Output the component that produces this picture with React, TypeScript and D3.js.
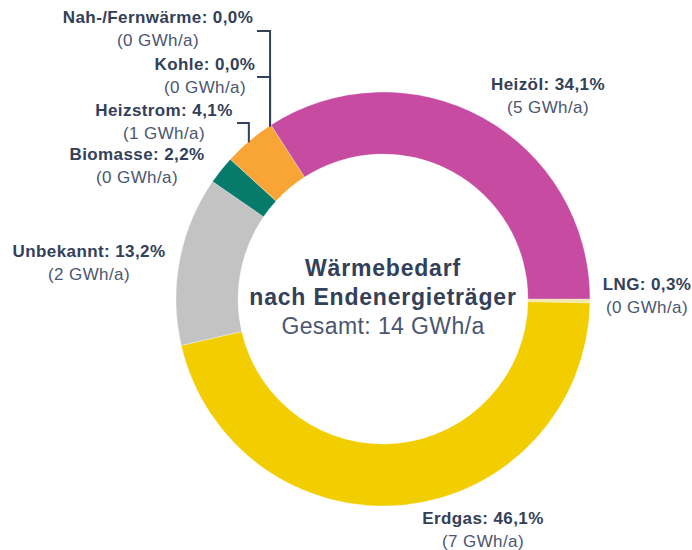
import React from "react";
import * as d3 from "d3";

const categories = ["LNG", "Erdgas", "Unbekannt", "Biomasse", "Heizstrom", "Kohle", "Nah-/Fernwärme", "Heizöl"];
const shares = [0.3, 46.1, 13.2, 2.2, 4.1, 0.0, 0.0, 34.1];
const energyLabels = ["0", "7", "2", "0", "1", "0", "0", "5"];
const colors = ["#f9e6a6", "#f2cd00", "#c3c3c3", "#067a6b", "#f8a535", "#555555", "#b5121b", "#c84ba2"];
// label anchor positions (center x, baseline y of first line)
const labelX = [647, 483, 89, 137, 164, 205, 158, 548];
const labelY = [290, 524, 257, 160, 116, 70, 23, 90];
const titleLines = ["Wärmebedarf", "nach Endenergieträger"];
const totalLabel = "Gesamt: 14 GWh/a";

const W = 692, H = 550;
const cx = 383, cy = 299;
const rOuter = 207, rInner = 145;
const TEXT = "#33405a";

export default function App() {
  const pie = d3.pie<number>().sort(null).value((d) => d)
    .startAngle(Math.PI / 2).endAngle(Math.PI / 2 + 2 * Math.PI);
  const arcs = pie(shares);
  const arc = d3.arc<d3.PieArcDatum<number>>().innerRadius(rInner).outerRadius(rOuter);
  const fmt = (v: number) => v.toFixed(1).replace(".", ",") + "%";

  // leader lines for small slices on the upper left
  const leaders: { idx: number; xEnd: number; yLine: number }[] = [
    { idx: 6, xEnd: 257, yLine: 31 },
    { idx: 5, xEnd: 257, yLine: 77 },
    { idx: 4, xEnd: 237, yLine: 123 },
  ];

  return (
    <svg width={W} height={H} style={{ position: "absolute", left: 0, top: 0 }}
      fontFamily="'Liberation Sans', Arial, sans-serif">
      <g transform={`translate(${cx},${cy})`}>
        {arcs.map((a, i) => (
          <path key={categories[i]} d={arc(a) || ""} fill={colors[i]}
            stroke="#ffffff" strokeWidth={a.endAngle - a.startAngle > 0 ? 0.3 : 0} />
        ))}
      </g>
      {leaders.map((l) => {
        const a = arcs[l.idx];
        const mid = (a.startAngle + a.endAngle) / 2;
        const px = cx + Math.sin(mid) * (rOuter - 2);
        const py = cy - Math.cos(mid) * (rOuter - 2);
        return (
          <polyline key={l.idx} fill="none" stroke={TEXT} strokeWidth={2}
            points={`${l.xEnd},${l.yLine} ${px - 2},${l.yLine} ${px - 2},${py}`} />
        );
      })}
      {categories.map((c, i) => (
        <text key={c} x={labelX[i]} y={labelY[i]} textAnchor="middle" fill={TEXT} fontSize={17} letterSpacing={0.4}>
          <tspan fontWeight="bold">{`${c}: ${fmt(shares[i])}`}</tspan>
          <tspan x={labelX[i]} dy={23} fill="#4a5670">{`(${energyLabels[i]} GWh/a)`}</tspan>
        </text>
      ))}
      <text x={cx} y={276} textAnchor="middle" fill={TEXT} fontSize={23} letterSpacing={0.8} fontWeight="bold">{titleLines[0]}</text>
      <text x={cx} y={305} textAnchor="middle" fill={TEXT} fontSize={23} letterSpacing={0.8} fontWeight="bold">{titleLines[1]}</text>
      <text x={cx} y={334} textAnchor="middle" fill="#4a5670" fontSize={23} letterSpacing={0.4}>{totalLabel}</text>
    </svg>
  );
}
